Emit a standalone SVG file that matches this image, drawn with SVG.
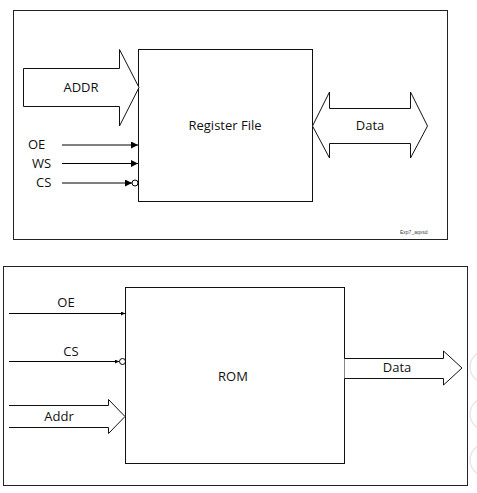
<svg xmlns="http://www.w3.org/2000/svg" width="477" height="493" viewBox="0 0 477 493">
<style>
.fr{fill:#fff;stroke:#222;stroke-width:1}
.bx{fill:#fff;stroke:#111;stroke-width:1}
.ln{fill:none;stroke:#000;stroke-width:1}
.ar{fill:#fff;stroke:#111;stroke-width:1;stroke-linejoin:miter}
.t{font-family:"Open Sans","Liberation Sans",sans-serif;font-size:13px;fill:#111}
.s{font-family:"Liberation Sans",sans-serif;font-size:5px;fill:#444}
</style>
<defs>
<marker id="ah" viewBox="0 0 10 10" refX="10" refY="5" markerWidth="7" markerHeight="7" markerUnits="userSpaceOnUse" orient="auto"><path d="M0,0L10,5L0,10z" fill="#000"/></marker>
<marker id="ah2" viewBox="0 0 10 10" refX="10" refY="5" markerWidth="4" markerHeight="4" markerUnits="userSpaceOnUse" orient="auto"><path d="M0,0L10,5L0,10z" fill="#000"/></marker>
</defs>
<rect width="477" height="493" fill="#fff"/>
<g id="frame1"><rect class="fr" x="13.5" y="10.5" width="434" height="229"/>
<text class="s" x="400" y="234">Exp7_aqvsd</text></g>
<g id="frame2"><rect class="fr" x="3.5" y="266.5" width="464" height="219"/></g>
<g id="regfile"><rect class="bx" x="138.5" y="49.5" width="174" height="152"/>
<text class="t" x="225" y="130" text-anchor="middle">Register File</text></g>
<g id="rom"><rect class="bx" x="125.5" y="287.5" width="219" height="176"/>
<text class="t" x="233" y="381" text-anchor="middle">ROM</text></g>
<g id="connectors">
<g id="addr1"><path class="ar" d="M23.5,68.5H119.5V49.5L139,87.5L119.5,126V106.5H23.5Z"/><text class="t" x="81" y="92" text-anchor="middle">ADDR</text></g>
<g id="data1"><path class="ar" d="M312.5,126L329.5,92V108.5H410.5V92L427.5,126L410.5,158V143.5H329.5V158Z"/><text class="t" x="370" y="130" text-anchor="middle">Data</text></g>
<g id="oe1"><line class="ln" x1="62" y1="145" x2="138" y2="145" marker-end="url(#ah)"/><text class="t" x="28" y="149">OE</text></g>
<g id="ws1"><line class="ln" x1="62" y1="163.5" x2="138" y2="163.5" marker-end="url(#ah)"/><text class="t" x="32" y="168">WS</text></g>
<g id="cs1"><line class="ln" x1="62" y1="183" x2="132" y2="183" marker-end="url(#ah)"/><circle class="ln" cx="135" cy="183" r="3" fill="#fff"/><text class="t" x="36" y="187">CS</text></g>
<g id="oe2"><line class="ln" x1="9" y1="313.5" x2="125" y2="313.5" marker-end="url(#ah2)"/><text class="t" x="66" y="307" text-anchor="middle">OE</text></g>
<g id="cs2"><line class="ln" x1="9" y1="361.5" x2="119" y2="361.5" marker-end="url(#ah2)"/><circle class="ln" cx="122.5" cy="361.5" r="3" fill="#fff"/><text class="t" x="71" y="356" text-anchor="middle">CS</text></g>
<g id="addr2"><path class="ar" d="M9,405.5H108.5V399.5L125,416.5L108.5,433.5V427.5H9"/><text class="t" x="59" y="421" text-anchor="middle">Addr</text></g>
<g id="data2"><path class="ar" d="M344.5,358.5H443.5V351L462,368L443.5,385V378.5H344.5"/><text class="t" x="397" y="372" text-anchor="middle">Data</text></g>
</g>
<g fill="none" stroke="#e8e8e8" stroke-width="1.5">
<circle cx="486" cy="367" r="16"/><circle cx="486" cy="414" r="16"/><circle cx="486" cy="460" r="16"/>
</g>
</svg>
